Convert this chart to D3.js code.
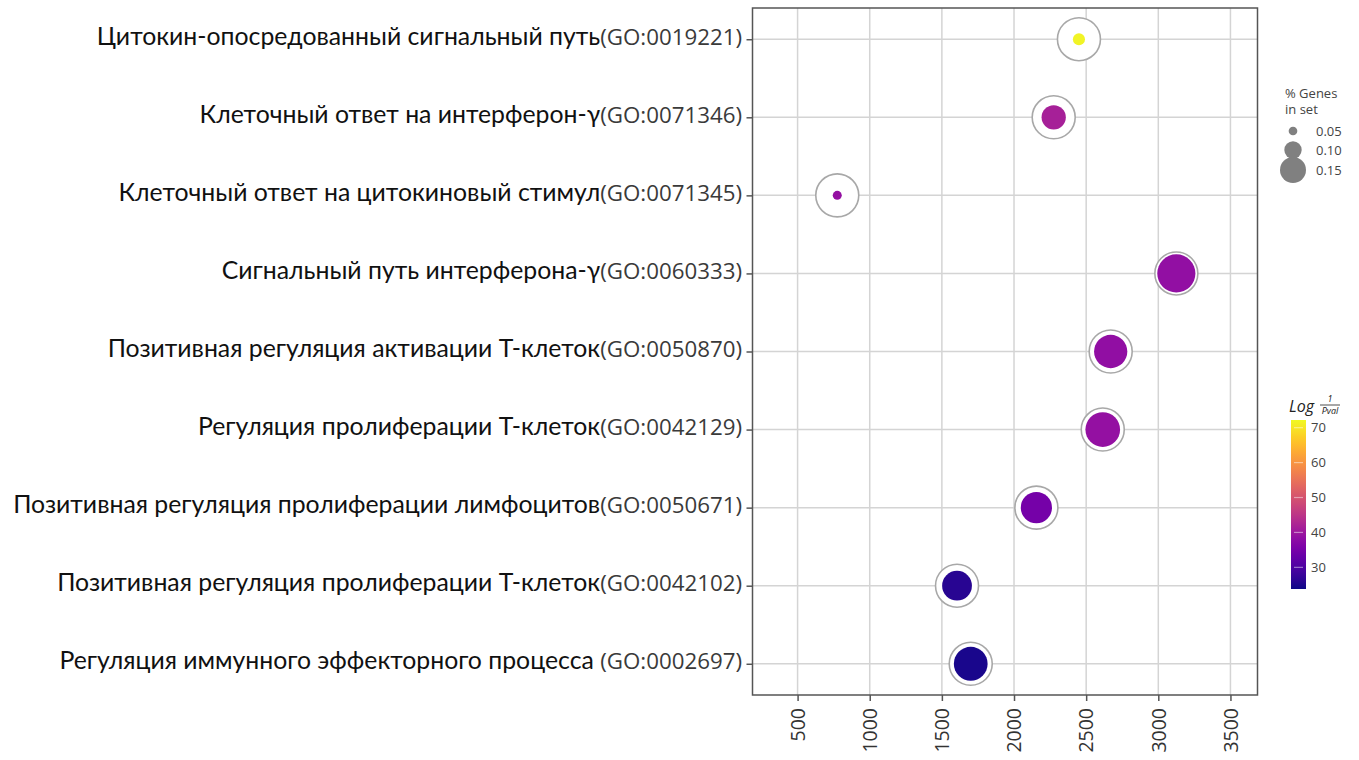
<!DOCTYPE html>
<html>
<head>
<meta charset="utf-8">
<script src="https://cdn.jsdelivr.net/npm/d3@7"></script>
<style>
  html, body { margin: 0; padding: 0; background: #fff; }
  svg { display: block; }
  .name { font-family: Lato, "Noto Sans", sans-serif; fill: #111; }
  .go { font-family: "Open Sans", "Noto Sans", sans-serif; fill: #3a3a3a; }
  text { white-space: pre; }
</style>
</head>
<body>
<svg id="chart" width="1359" height="760"></svg>
<script>
// GO terms (top to bottom)
const termNames = [
  "Цитокин-опосредованный сигнальный путь",
  "Клеточный ответ на интерферон-γ",
  "Клеточный ответ на цитокиновый стимул",
  "Сигнальный путь интерферона-γ",
  "Позитивная регуляция активации Т-клеток",
  "Регуляция пролиферации Т-клеток",
  "Позитивная регуляция пролиферации лимфоцитов",
  "Позитивная регуляция пролиферации Т-клеток",
  "Регуляция иммунного эффекторного процесса "
];
const goIds = [
  "(GO:0019221)", "(GO:0071346)", "(GO:0071345)", "(GO:0060333)", "(GO:0050870)",
  "(GO:0042129)", "(GO:0050671)", "(GO:0042102)", "(GO:0002697)"
];
// x position of each term
const xValues = [2450, 2275, 775, 3125, 2670, 2615, 2155, 1605, 1700];
// fraction of genes in set
const geneRatio = [0.07, 0.14, 0.052, 0.22, 0.192, 0.2, 0.18, 0.172, 0.195];
// log(1/p)
const logInvP = [71.5, 41.5, 38.8, 38.6, 38.4, 38.8, 34.8, 26.0, 24.6];

const xTicks = [500, 1000, 1500, 2000, 2500, 3000, 3500];
const sizeLegendValues = [0.05, 0.10, 0.15];
const colorTicks = [30, 40, 50, 60, 70];

const svg = d3.select("#chart");
const plot = { left: 752.5, right: 1257.5, top: 8, bottom: 695 };

const x = d3.scaleLinear().domain([187.5, 3687.5]).range([plot.left, plot.right]);
const y = d3.scalePoint().domain(d3.range(termNames.length)).range([plot.top, plot.bottom]).padding(0.4);
const r = d3.scaleLinear().domain([0, 0.15]).range([0, 13]);
const color = d3.scaleSequential(d3.interpolatePlasma).domain([23.8, 72.2]);

// grid
const grid = svg.append("g").attr("stroke", "#d4d4d4").attr("stroke-width", 1.5);
grid.selectAll("line.v").data(xTicks).join("line")
  .attr("x1", d => x(d)).attr("x2", d => x(d))
  .attr("y1", plot.top).attr("y2", plot.bottom);
grid.selectAll("line.h").data(d3.range(termNames.length)).join("line")
  .attr("x1", plot.left).attr("x2", plot.right)
  .attr("y1", d => y(d)).attr("y2", d => y(d));

// bottom axis
const xAxis = svg.append("g")
  .attr("transform", `translate(0,${plot.bottom})`)
  .call(d3.axisBottom(x).tickValues(xTicks).tickSize(6).tickSizeOuter(0).tickFormat(d3.format("d")));
xAxis.select(".domain").remove();
xAxis.selectAll(".tick line").attr("stroke", "#555").attr("stroke-width", 1.5);
xAxis.selectAll(".tick text")
  .attr("transform", "rotate(-90)")
  .attr("x", -13).attr("y", 0).attr("dy", "0.35em")
  .attr("text-anchor", "end")
  .attr("font-family", "Open Sans, sans-serif").attr("font-size", 19.5).attr("fill", "#333");

// left axis ticks
const yAxis = svg.append("g")
  .attr("transform", `translate(${plot.left},0)`)
  .call(d3.axisLeft(y).tickSize(6).tickSizeOuter(0).tickFormat(""));
yAxis.select(".domain").remove();
yAxis.selectAll(".tick line").attr("stroke", "#555").attr("stroke-width", 1.5);

// category labels: name + GO id
const labels = svg.append("g").selectAll("text").data(d3.range(termNames.length)).join("text")
  .attr("x", 742).attr("y", d => y(d)).attr("dy", "0.35em").attr("text-anchor", "end");
labels.append("tspan").attr("class", "name").attr("font-size", 24.8).text(d => termNames[d]);
labels.append("tspan").attr("class", "go").attr("font-size", 22.3).text(d => goIds[d]);

// frame
svg.append("rect")
  .attr("x", plot.left).attr("y", plot.top)
  .attr("width", plot.right - plot.left).attr("height", plot.bottom - plot.top)
  .attr("fill", "none").attr("stroke", "#555").attr("stroke-width", 1.5);

// points: halo + coloured dot
const pts = svg.append("g").selectAll("g").data(d3.range(termNames.length)).join("g")
  .attr("transform", d => `translate(${x(xValues[d])},${y(d)})`);
pts.append("circle").attr("r", 21.5).attr("fill", "#fff").attr("stroke", "#a8a8a8").attr("stroke-width", 1.6);
pts.append("circle").attr("r", d => r(geneRatio[d])).attr("fill", d => color(logInvP[d]));

// size legend
const sl = svg.append("g").attr("font-family", "Open Sans, sans-serif").attr("fill", "#444");
sl.append("text").attr("x", 1285).attr("y", 98).attr("font-size", 13).text("% Genes");
sl.append("text").attr("x", 1285).attr("y", 114).attr("font-size", 13).text("in set");
const slY = [131, 150, 170];
sl.selectAll("circle").data(sizeLegendValues).join("circle")
  .attr("cx", 1293).attr("cy", (d, i) => slY[i]).attr("r", d => r(d)).attr("fill", "#808080");
sl.selectAll("text.v").data(sizeLegendValues).join("text").attr("class", "v")
  .attr("x", 1316).attr("y", (d, i) => slY[i]).attr("dy", "0.35em").attr("font-size", 13)
  .text(d => d3.format(".2f")(d));

// colour bar
const cb = { x: 1291, w: 15, top: 420, bottom: 589 };
const cy = d3.scaleLinear().domain(color.domain()).range([cb.bottom, cb.top]);
const defs = svg.append("defs");
const grad = defs.append("linearGradient").attr("id", "plasma").attr("x1", 0).attr("y1", 1).attr("x2", 0).attr("y2", 0);
d3.range(0, 1.0001, 0.05).forEach(t => {
  grad.append("stop").attr("offset", t).attr("stop-color", d3.interpolatePlasma(t));
});
svg.append("rect").attr("x", cb.x).attr("y", cb.top).attr("width", cb.w).attr("height", cb.bottom - cb.top)
  .attr("fill", "url(#plasma)");
const cbg = svg.append("g");
cbg.selectAll("line").data(colorTicks).join("line")
  .attr("x1", cb.x + 3).attr("x2", cb.x + cb.w - 3)
  .attr("y1", d => cy(d)).attr("y2", d => cy(d))
  .attr("stroke", "#fff").attr("stroke-opacity", 0.45).attr("stroke-width", 1.2);
cbg.selectAll("text").data(colorTicks).join("text")
  .attr("x", 1311).attr("y", d => cy(d)).attr("dy", "0.35em")
  .attr("font-family", "Open Sans, sans-serif").attr("font-size", 13).attr("fill", "#444")
  .text(d => d);

// colour bar title: Log (1 / Pval)
const ct = svg.append("g").attr("font-family", "Open Sans, sans-serif").attr("font-style", "italic").attr("fill", "#222");
ct.append("text").attr("x", 1289).attr("y", 412).attr("font-size", 16).text("Log");
ct.append("text").attr("x", 1330).attr("y", 402).attr("font-size", 9).attr("text-anchor", "middle").text("1");
ct.append("line").attr("x1", 1320).attr("x2", 1340).attr("y1", 405).attr("y2", 405).attr("stroke", "#222").attr("stroke-width", 0.8);
ct.append("text").attr("x", 1330).attr("y", 414).attr("font-size", 9).attr("text-anchor", "middle").text("Pval");
</script>
</body>
</html>
